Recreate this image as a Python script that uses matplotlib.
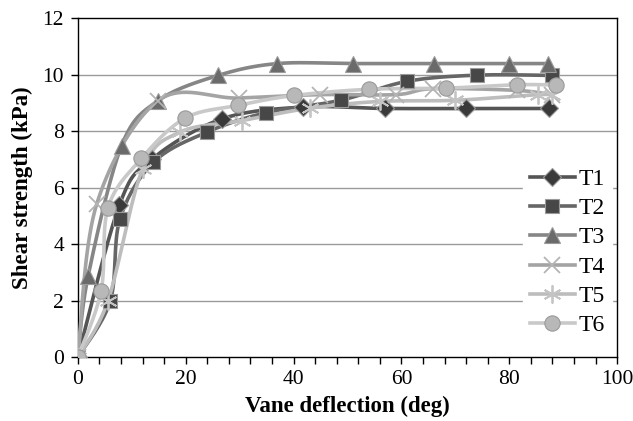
import numpy as np
import matplotlib
matplotlib.use("Agg")
import matplotlib.pyplot as plt
from matplotlib.ticker import MultipleLocator

plt.rcParams['font.family'] = ['Liberation Serif', 'DejaVu Serif']

# data
t1_x = [0, 7.7, 13.7, 26.7, 41.8, 57.0, 72.0, 87.3]
t1_y = [0, 5.38, 7.0, 8.43, 8.85, 8.8, 8.8, 8.8]

t2_x = [0, 6.0, 7.8, 14.0, 23.9, 34.9, 48.7, 61.0, 74.0, 88.0]
t2_y = [0, 1.98, 4.88, 6.89, 7.96, 8.65, 9.09, 9.76, 9.98, 9.97]

t3_x = [0, 1.9, 8.1, 14.9, 26.0, 37.0, 51.0, 66.0, 80.0, 87.1]
t3_y = [0, 2.86, 7.48, 9.08, 9.97, 10.39, 10.39, 10.39, 10.39, 10.39]

t4_x = [0, 3.5, 14.9, 29.8, 44.9, 59.0, 65.8, 81.4, 88.0]
t4_y = [0, 5.42, 9.08, 9.17, 9.29, 9.29, 9.5, 9.44, 9.28]

t5_x = [0, 5.6, 12.0, 18.9, 30.4, 43.0, 56.0, 70.0, 85.4, 88.0]
t5_y = [0, 2.0, 6.65, 7.96, 8.37, 8.81, 9.05, 9.09, 9.29, 9.26]

t6_x = [0, 4.3, 5.6, 11.8, 19.9, 29.7, 40.1, 54.0, 68.2, 81.4, 88.6]
t6_y = [0, 2.33, 5.29, 7.03, 8.46, 8.91, 9.26, 9.48, 9.52, 9.64, 9.63]

labels = ["T1", "T2", "T3", "T4", "T5", "T6"]


def smooth(xs, ys, n=20):
    # catmull-rom curve through the points, like excel "smoothed line"
    p = np.column_stack([xs, ys]).astype(float)
    p = np.vstack([p[0], p, p[-1]])
    out = []
    t = np.linspace(0, 1, n)[:, None]
    for i in range(1, len(p) - 2):
        p0, p1, p2, p3 = p[i - 1], p[i], p[i + 1], p[i + 2]
        seg = 0.5 * ((2 * p1) + (-p0 + p2) * t
                     + (2 * p0 - 5 * p1 + 4 * p2 - p3) * t ** 2
                     + (-p0 + 3 * p1 - 3 * p2 + p3) * t ** 3)
        out.append(seg)
    out = np.vstack(out)
    return out[:, 0], out[:, 1]


fig = plt.figure(figsize=(6.33, 4.21), dpi=100)
ax = fig.add_axes([0.123, 0.152, 0.852, 0.805])

series = [
    (t1_x, t1_y, "#555555", "D", "#3a3a3a", 9),
    (t2_x, t2_y, "#666666", "s", "#474747", 10),
    (t3_x, t3_y, "#868686", "^", "#6a6a6a", 11),
    (t4_x, t4_y, "#a4a4a4", "x", "#b4b4b4", 11),
    (t5_x, t5_y, "#bdbdbd", (6, 2, 0), "#c4c4c4", 13),
    (t6_x, t6_y, "#c9c9c9", "o", "#b8b8b8", 11),
]

handles = []
for (xs, ys, lc, mk, mc, ms), lab in zip(series, labels):
    sx, sy = smooth(xs, ys)
    ax.plot(sx, sy, color=lc, lw=2.6, zorder=3)
    if mk in ("x",) or isinstance(mk, tuple):
        ax.plot(xs, ys, ls="none", marker=mk, ms=ms, mec=mc, mew=1.3,
                zorder=4)
        h, = ax.plot([], [], color=lc, lw=2.6, marker=mk, ms=ms, mec=mc,
                     mew=1.3)
    else:
        ax.plot(xs, ys, ls="none", marker=mk, ms=ms, mfc=mc, mec="#9a9a9a",
                mew=0.8, zorder=4)
        h, = ax.plot([], [], color=lc, lw=2.6, marker=mk, ms=ms, mfc=mc,
                     mec="#9a9a9a", mew=0.8)
    handles.append(h)

ax.set_xlim(0, 100)
ax.set_ylim(0, 12)
ax.xaxis.set_major_locator(MultipleLocator(20))
ax.xaxis.set_minor_locator(MultipleLocator(4))
ax.yaxis.set_major_locator(MultipleLocator(2))
ax.tick_params(axis="both", which="both", direction="out", length=5,
               width=1, labelsize=15.5, color="black")
ax.tick_params(axis="x", pad=4)
ax.tick_params(axis="y", pad=5)

for y in range(2, 12, 2):
    ax.axhline(y, color="#9a9a9a", lw=1, zorder=1)

for sp in ax.spines.values():
    sp.set_linewidth(1)
    sp.set_color("black")

ax.set_xlabel("Vane deflection (deg)", fontsize=16.5, fontweight="bold",
              labelpad=5)
ax.set_ylabel("Shear strength (kPa)", fontsize=16.5, fontweight="bold",
              labelpad=7)

leg = ax.legend(handles, labels, loc="lower right",
                bbox_to_anchor=(1.012, 0.005), fontsize=17,
                handlelength=1.9, labelspacing=0.33, handletextpad=0.15,
                borderpad=0.3, frameon=True, fancybox=False)
leg.get_frame().set_facecolor("white")
leg.get_frame().set_edgecolor("white")
leg.get_frame().set_alpha(1)
leg.set_zorder(5)

fig.savefig("out.png", dpi=100)
plt.close(fig)
